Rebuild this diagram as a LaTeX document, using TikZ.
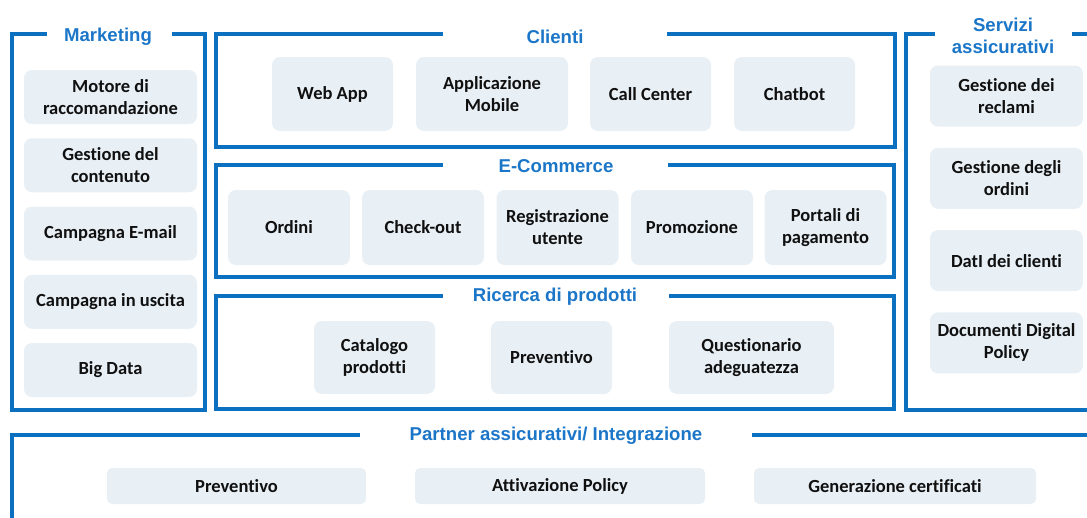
\documentclass[tikz,border=0pt]{standalone}
\usepackage{fontspec}
\setmainfont{Carlito}[Ligatures=NoCommon]
\newfontfamily\headfont{Liberation Sans}
\usetikzlibrary{positioning}

\definecolor{lineblue}{RGB}{12,112,192}
\definecolor{headblue}{RGB}{28,118,200}
\definecolor{boxfill}{RGB}{232,239,245}
\definecolor{boxtext}{RGB}{16,16,16}

\begin{document}
\begin{tikzpicture}[x=1pt,y=-1pt,
    frame/.style={draw=lineblue,line width=3.2pt},
    head/.style={font=\headfont\bfseries\fontsize{18.6}{22}\selectfont,
      text=headblue,align=center,inner sep=0pt},
    item/.style={fill=boxfill,rounded corners=8pt,align=center,inner sep=0pt,
      font=\bfseries\fontsize{18.5}{22}\selectfont,text=boxtext}]

    \useasboundingbox (0,0) rectangle (1087,517);
    \clip (0,0) rectangle (1087,517);

    %==================== Marketing ====================
    \begin{scope}
      \node[head] (tmk) at (108,37) {Marketing};
      \draw[frame] (172,34) -- (205,34) -- (205,410) -- (12,410) -- (12,34) -- (47,34);

      \foreach \i/\txt in {1/{Motore di\\raccomandazione},2/{Gestione del\\contenuto},
          3/{Campagna E-mail},4/{Campagna in uscita},5/{Big Data}} {
        \node[item,minimum width=173pt,minimum height=54pt]
          (mk\i) at (110.5,{97+68.25*(\i-1)}) {\txt};
      }
    \end{scope}

    %==================== Clienti ====================
    \begin{scope}
      \node[head] (tcl) at (555,37) {Clienti};
      \draw[frame] (667,34) -- (895,34) -- (895,147) -- (216,147) -- (216,34) -- (443,34);

      \foreach \i/\x/\w/\txt in {1/332.5/121/{Web App},2/492/152/{Applicazione\\Mobile},
          3/650.5/121/{Call Center},4/794.5/121/{Chatbot}} {
        \node[item,minimum width=\w pt,minimum height=74pt] (cl\i) at (\x,94) {\txt};
      }
    \end{scope}

    %==================== E-Commerce ====================
    \begin{scope}
      \node[head] (tec) at (556,166) {E-Commerce};
      \draw[frame] (668,165) -- (894,165) -- (894,277) -- (216,277) -- (216,165) -- (443,165);

      \foreach \i/\x/\txt in {1/289/{Ordini},2/423/{Check-out},3/557.5/{Registrazione\\utente},
          4/692/{Promozione},5/825.5/{Portali di\\pagamento}} {
        \node[item,minimum width=122pt,minimum height=75pt] (ec\i) at (\x,227.5) {\txt};
      }
    \end{scope}

    %==================== Ricerca di prodotti ====================
    \begin{scope}
      \node[head] (trp) at (555,297) {Ricerca di prodotti};
      \draw[frame] (669,296) -- (894,296) -- (894,409) -- (216,409) -- (216,296) -- (443,296);

      \foreach \i/\x/\w/\txt in {1/374.5/121/{Catalogo\\prodotti},2/551.5/121/{Preventivo},
          3/751.5/165/{Questionario\\adeguatezza}} {
        \node[item,minimum width=\w pt,minimum height=73pt] (rp\i) at (\x,357.5) {\txt};
      }
    \end{scope}

    %==================== Servizi assicurativi ====================
    \begin{scope}
      \node[head] (tsa) at (1003,36) {Servizi\\assicurativi};
      \draw[frame] (935,34) -- (906,34) -- (906,410) -- (1100,410);
      \draw[frame] (1072,34) -- (1100,34);

      \foreach \i/\txt in {1/{Gestione dei\\reclami},2/{Gestione degli\\ordini},
          3/{DatI dei clienti},4/{Documenti Digital\\Policy}} {
        \node[item,minimum width=153pt,minimum height=61pt]
          (sa\i) at (1006.5,{96+82.3*(\i-1)}) {\txt};
      }
    \end{scope}

    %==================== Partner assicurativi ====================
    \begin{scope}
      \node[head] (tpa) at (556,436) {Partner assicurativi/ Integrazione};
      \draw[frame] (360,435) -- (12,435) -- (12,530);
      \draw[frame] (752,435) -- (1100,435);

      \foreach \i/\x/\w/\txt in {1/236.5/259/{Preventivo},2/560/290/{Attivazione Policy},
          3/895/282/{Generazione certificati}} {
        \node[item,minimum width=\w pt,minimum height=36pt,rounded corners=5pt]
          (pa\i) at (\x,486) {\txt};
      }
    \end{scope}

  \end{tikzpicture}
\end{document}
